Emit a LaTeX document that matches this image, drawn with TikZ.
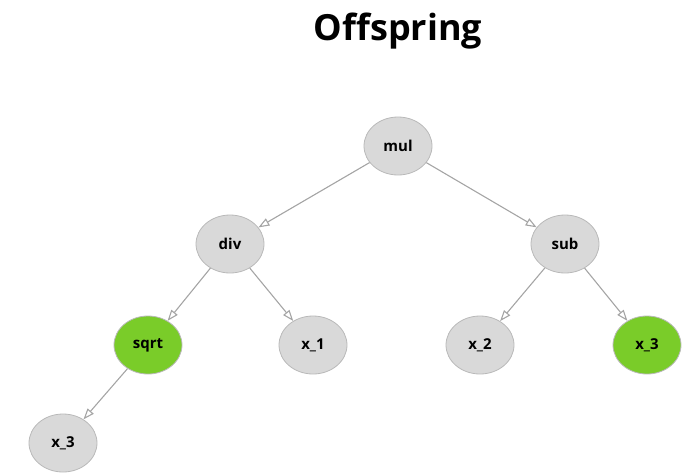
\documentclass[tikz,border=0pt]{standalone}
\usepackage{fontspec}
\setmainfont{Open Sans}
\usetikzlibrary{arrows.meta,shapes.geometric}
\definecolor{nodegray}{RGB}{217,217,217}
\definecolor{nodeedge}{RGB}{185,185,185}
\definecolor{leafgreen}{RGB}{122,204,41}
\definecolor{edgegray}{RGB}{165,165,165}
\tikzset{
  treenode/.style={ellipse, draw=nodeedge, line width=0.8pt, fill=nodegray,
    minimum width=68pt, minimum height=58pt, inner sep=0pt,
    font=\fontsize{15}{17}\selectfont\bfseries},
  greennode/.style={treenode, fill=leafgreen},
  link/.style={draw=edgegray, line width=1.1pt,
    -{Triangle[open, length=11pt, width=8pt]}}
}
\begin{document}
\begin{tikzpicture}[x=1pt, y=-1pt]
  \useasboundingbox (0,0) rectangle (687,472);
  \node[font=\fontsize{36}{40}\selectfont\bfseries] (title) at (398,31) {Offspring};
  \node[treenode] (mul) at (398,146) {mul};
  \node[treenode] (div) at (230,244) {div};
  \node[treenode] (sub) at (565,244) {sub};
  \node[greennode] (sqrt) at (148,345) {sqrt};
  \node[treenode] (x1) at (313,345) {x\_1};
  \node[treenode] (x2) at (480,345) {x\_2};
  \node[greennode] (x3a) at (647,345) {x\_3};
  \node[treenode] (x3b) at (63,443) {x\_3};
  \draw[link] (mul) -- (div);
  \draw[link] (mul) -- (sub);
  \draw[link] (div) -- (sqrt);
  \draw[link] (div) -- (x1);
  \draw[link] (sub) -- (x2);
  \draw[link] (sub) -- (x3a);
  \draw[link] (sqrt) -- (x3b);
\end{tikzpicture}
\end{document}
